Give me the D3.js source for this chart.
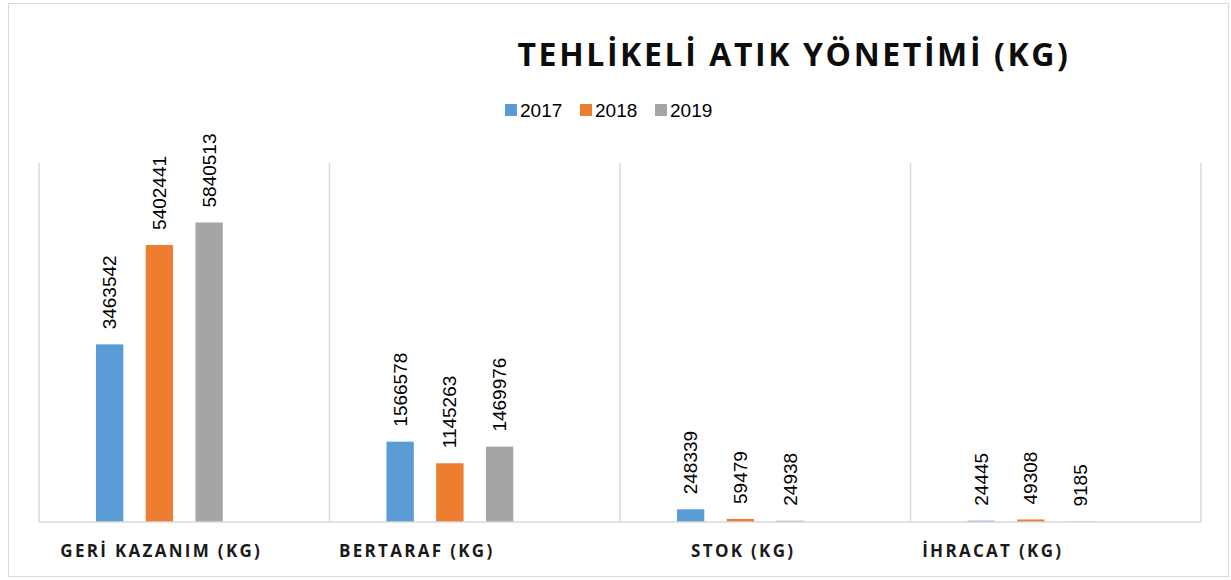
<!DOCTYPE html>
<html>
<head>
<meta charset="utf-8">
<script src="https://cdn.jsdelivr.net/npm/d3@7"></script>
<style>
  body { margin: 0; background: #fff; }
  svg { display: block; }
</style>
</head>
<body>
<svg width="1231" height="580"></svg>
<script>
const categories = ["GERİ KAZANIM (KG)", "BERTARAF (KG)", "STOK (KG)", "İHRACAT (KG)"];
const years = ["2017", "2018", "2019"];
const values2017 = [3463542, 1566578, 248339, 24445];
const values2018 = [5402441, 1145263, 59479, 49308];
const values2019 = [5840513, 1469976, 24938, 9185];
const colors = ["#5B9BD5", "#ED7D31", "#A5A5A5"];
// labels in the original sit left of the band centre
const labelShift = [-23, -58, -22, -63];

const series = [values2017, values2018, values2019];
const svg = d3.select("svg");
const plot = { left: 39, right: 1201, top: 163, bottom: 522 };

// chart frame
svg.append("rect")
  .attr("x", 8.5).attr("y", 3.5)
  .attr("width", 1220).attr("height", 573)
  .attr("fill", "#fff")
  .attr("stroke", "#d9d9d9");

const x = d3.scaleBand()
  .domain(categories)
  .range([plot.left, plot.right]);

// 4 slots per category, the last one stays empty (as in the source chart)
const xSub = d3.scaleBand()
  .domain([0, 1, 2, 3])
  .range([0, x.bandwidth()])
  .paddingInner(0.45)
  .paddingOuter(1.145);

const y = d3.scaleLinear()
  .domain([0, 7000000])
  .range([plot.bottom, plot.top]);

// vertical separators between categories
const seps = categories.map(c => x(c)).concat([plot.right]);
svg.selectAll(".sep")
  .data(seps)
  .enter().append("line")
  .attr("class", "sep")
  .attr("x1", d => d).attr("x2", d => d)
  .attr("y1", plot.top).attr("y2", plot.bottom)
  .attr("stroke", "#d9d9d9")
  .attr("stroke-width", 1.5);

// bars
const groups = svg.selectAll(".cat")
  .data(categories)
  .enter().append("g")
  .attr("class", "cat")
  .attr("transform", d => "translate(" + x(d) + ",0)");

groups.each(function(cat, ci) {
  const g = d3.select(this);
  series.forEach((vals, si) => {
    const v = vals[ci];
    g.append("rect")
      .attr("x", xSub(si))
      .attr("y", y(v))
      .attr("width", xSub.bandwidth())
      .attr("height", plot.bottom - y(v))
      .attr("fill", colors[si]);

    g.append("text")
      .attr("transform", "translate(" + (xSub(si) + xSub.bandwidth() / 2) + "," + (y(v) - 15) + ") rotate(-90)")
      .attr("dominant-baseline", "central")
      .attr("font-family", "Liberation Sans, Arial, sans-serif")
      .attr("font-size", 19)
      .attr("fill", "#000")
      .text(v);
  });
});

// baseline
svg.append("line")
  .attr("x1", plot.left).attr("x2", plot.right)
  .attr("y1", plot.bottom).attr("y2", plot.bottom)
  .attr("stroke", "#d9d9d9")
  .attr("stroke-width", 1.5);

// category labels
svg.selectAll(".catLabel")
  .data(categories)
  .enter().append("text")
  .attr("class", "catLabel")
  .attr("x", (d, i) => x(d) + x.bandwidth() / 2 + labelShift[i])
  .attr("y", 557)
  .attr("text-anchor", "middle")
  .attr("font-family", "Open Sans, sans-serif")
  .attr("font-weight", "bold")
  .attr("font-size", 17)
  .attr("letter-spacing", 2.3)
  .attr("fill", "#1a1a1a")
  .text(d => d);

// title
svg.append("text")
  .attr("x", 794)
  .attr("y", 66)
  .attr("text-anchor", "middle")
  .attr("font-family", "Open Sans, sans-serif")
  .attr("font-weight", "bold")
  .attr("font-size", 32)
  .attr("letter-spacing", 2.6)
  .attr("fill", "#0d0d0d")
  .text("TEHLİKELİ ATIK YÖNETİMİ (KG)");

// legend
const legend = svg.selectAll(".legend")
  .data(years)
  .enter().append("g")
  .attr("class", "legend")
  .attr("transform", (d, i) => "translate(" + (505 + i * 75) + ",104)");

legend.append("rect")
  .attr("width", 12).attr("height", 12)
  .attr("fill", (d, i) => colors[i]);

legend.append("text")
  .attr("x", 15)
  .attr("y", 13)
  .attr("font-family", "Liberation Sans, Arial, sans-serif")
  .attr("font-size", 19)
  .attr("fill", "#000")
  .text(d => d);
</script>
</body>
</html>
